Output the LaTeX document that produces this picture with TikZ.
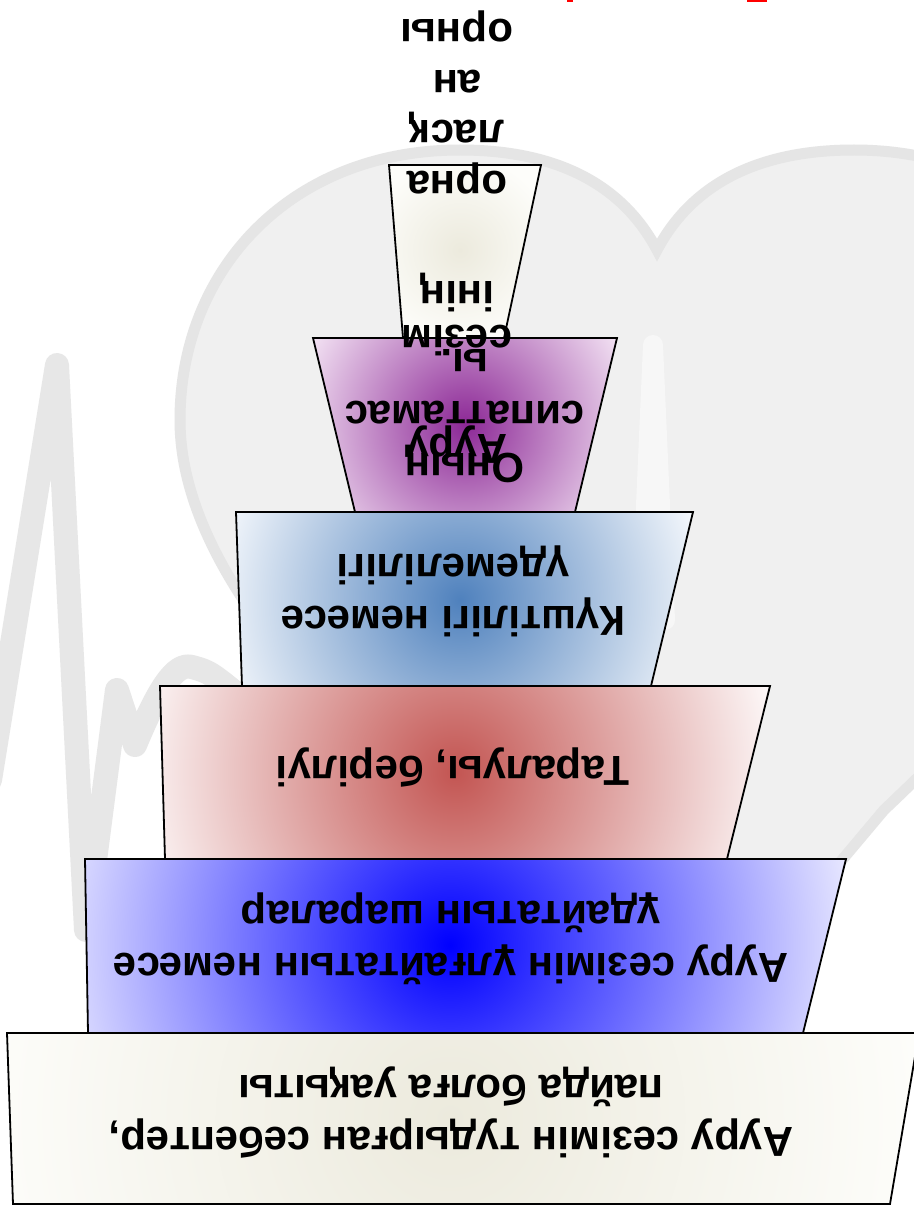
\documentclass[tikz,border=0pt]{standalone}
\usepackage{fontspec}
\setmainfont{Liberation Sans}
\definecolor{ecgcol}{RGB}{231,231,231}
\definecolor{heartfill}{RGB}{240,240,240}
\definecolor{heartband}{RGB}{229,229,229}
\definecolor{spikecol}{RGB}{247,247,247}
\definecolor{creamin}{RGB}{236,234,221}
\definecolor{creamout}{RGB}{253,253,250}
\definecolor{bluein}{RGB}{0,0,255}
\definecolor{blueout}{RGB}{240,240,255}
\definecolor{redin}{RGB}{195,85,82}
\definecolor{redout}{RGB}{252,246,246}
\definecolor{lbin}{RGB}{79,129,189}
\definecolor{lbout}{RGB}{242,246,251}
\definecolor{purin}{RGB}{140,40,150}
\definecolor{purout}{RGB}{248,236,248}
\definecolor{titlered}{RGB}{255,0,0}
\begin{document}
\begin{tikzpicture}[x=1pt,y=-1pt,
  tierline/.style={draw=black,line width=1.8pt,line join=miter},
  lbl/.style={rotate=180,font=\bfseries\fontsize{42}{52}\selectfont,align=center,inner sep=0pt,text=black},
  toplbl/.style={lbl,anchor=base},
  ecgline/.style={draw=ecgcol,line width=24pt,line join=round,line cap=round},
  heartshape/.style={fill=heartfill,draw=heartband,line width=11pt}]
\useasboundingbox (0,0) rectangle (913,1206);
\fill[white] (0,0) rectangle (913,1206);

% ECG line outside the heart
\draw[ecgline] (-10,780) -- (57,365) -- (86,930) -- (117,690) -- (135,745)
  .. controls (158,690) and (175,662) .. (192,667) .. controls (210,672) .. (250,705);

% heart
\path[heartshape] (657,250) .. controls (620,180) and (550,150) .. (460,150)
  .. controls (290,150) and (180,270) .. (180,420)
  .. controls (180,560) and (314,700) .. (430,810) -- (657,1080) -- (884,810)
  .. controls (1000,700) and (1134,560) .. (1134,420)
  .. controls (1134,270) and (1024,150) .. (854,150)
  .. controls (764,150) and (694,180) .. (657,250) -- cycle;

% ECG spike inside the heart
\draw[draw=spikecol,line width=20pt,line join=round,line cap=round] (641,620) -- (653,345) -- (665,620);

% title fragments at the top edge
\fill[titlered] (567,0) rectangle (573,2);
\fill[titlered] (747,0) rectangle (767,2);

% tier 1 (bottom, cream)
\fill[creamout] (7,1033) -- (919,1033) -- (890,1204) -- (13,1204) -- cycle;
\begin{scope}
  \clip (7,1033) -- (919,1033) -- (890,1204) -- (13,1204) -- cycle;
  \shade[inner color=creamin,outer color=creamout] (450,1118) circle (470pt);
\end{scope}
\draw[tierline] (7,1033) -- (919,1033) -- (890,1204) -- (13,1204) -- cycle;

% tier 2 (blue)
\fill[blueout] (85,859) -- (846,859) -- (803,1033) -- (88,1033) -- cycle;
\begin{scope}
  \clip (85,859) -- (846,859) -- (803,1033) -- (88,1033) -- cycle;
  \shade[inner color=bluein,outer color=blueout] (450,945) circle (420pt);
\end{scope}
\draw[tierline] (85,859) -- (846,859) -- (803,1033) -- (88,1033) -- cycle;

% tier 3 (red)
\fill[redout] (160,686) -- (770,686) -- (727,859) -- (165,859) -- cycle;
\begin{scope}
  \clip (160,686) -- (770,686) -- (727,859) -- (165,859) -- cycle;
  \shade[inner color=redin,outer color=redout] (455,772) circle (320pt);
\end{scope}
\draw[tierline] (160,686) -- (770,686) -- (727,859) -- (165,859) -- cycle;

% tier 4 (light blue)
\fill[lbout] (236,512) -- (693,512) -- (651,686) -- (242,686) -- cycle;
\begin{scope}
  \clip (236,512) -- (693,512) -- (651,686) -- (242,686) -- cycle;
  \shade[inner color=lbin,outer color=lbout] (460,600) circle (245pt);
\end{scope}
\draw[tierline] (236,512) -- (693,512) -- (651,686) -- (242,686) -- cycle;

% tier 6 (top, cream)
\fill[creamout] (389,165) -- (541,165) -- (504,338) -- (403,338) -- cycle;
\begin{scope}
  \clip (389,165) -- (541,165) -- (504,338) -- (403,338) -- cycle;
  \shade[inner color=creamin,outer color=creamout] (460,250) circle (95pt);
\end{scope}
\draw[tierline] (389,165) -- (541,165) -- (504,338) -- (403,338) -- cycle;

% tier 5 (purple)
\fill[purout] (313,338) -- (617,338) -- (575,512) -- (355,512) -- cycle;
\begin{scope}
  \clip (313,338) -- (617,338) -- (575,512) -- (355,512) -- cycle;
  \shade[inner color=purin,outer color=purout] (465,425) circle (185pt);
\end{scope}
\draw[tierline] (313,338) -- (617,338) -- (575,512) -- (355,512) -- cycle;

% texts
\node[lbl] (t1) at (451,1113) {Ауру сезімін тудырған себептер,\\пайда болға уақыты};
\node[lbl] (t2) at (451,939) {Ауру сезімін ұлғайтатын немесе\\ұдайтатын шаралар};
\node[lbl] (t3) at (453,768) {Таралуы, берілуі};
\node[lbl] (t4) at (453,591) {Күштілігі немесе\\үдемелілігі};
\node[lbl] (t5) at (465,416) {Оның\\сипаттамас\\ы.};

\node[toplbl] (w1) at (457,434) {Ауру};
\node[toplbl] (w2) at (457,325) {сезім};
\node[toplbl] (w3) at (457,281) {інің};
\node[toplbl] (w4) at (457,172) {орна};
\node[toplbl] (w5) at (457,121) {ласқ};
\node[toplbl] (w6) at (457,71) {ан};
\node[toplbl] (w7) at (457,20) {орны};
\end{tikzpicture}
\end{document}
